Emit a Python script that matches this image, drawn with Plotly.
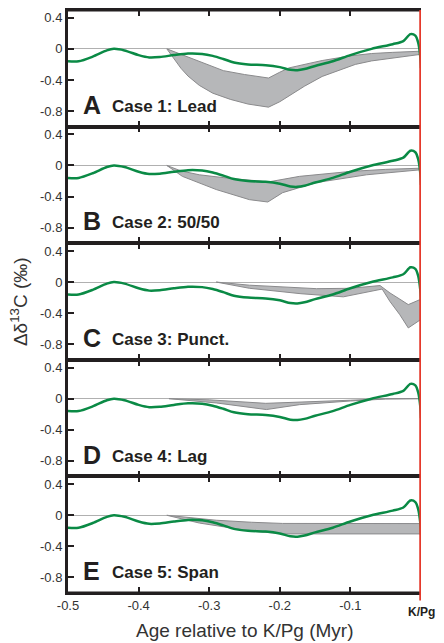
import plotly.graph_objects as go
from plotly.subplots import make_subplots

# ---- data ----
age = [-0.5, -0.485, -0.465, -0.445, -0.435, -0.42, -0.40, -0.385, -0.37, -0.35, -0.33,
       -0.31, -0.295, -0.28, -0.265, -0.245, -0.22, -0.2, -0.185, -0.175, -0.165, -0.15,
       -0.125, -0.1, -0.07, -0.04, -0.025, -0.015, -0.008, -0.004, -0.001, 0.0]
d13c = [-0.16, -0.16, -0.1, -0.02, 0.0, -0.02, -0.08, -0.11, -0.105, -0.08, -0.06,
        -0.065, -0.09, -0.13, -0.175, -0.2, -0.21, -0.235, -0.27, -0.275, -0.26, -0.22,
        -0.16, -0.08, 0.0, 0.06, 0.1, 0.19, 0.17, 0.08, -0.1, -0.25]

case1_up_x = [-0.36, -0.34, -0.32, -0.3, -0.28, -0.25, -0.216, -0.2, -0.187, -0.16, -0.14, -0.1, -0.07, -0.04, 0.0]
case1_up_y = [0.0, -0.07, -0.15, -0.22, -0.28, -0.33, -0.375, -0.3, -0.245, -0.19, -0.15, -0.09, -0.06, -0.045, -0.03]
case1_lo_x = [-0.36, -0.35, -0.34, -0.33, -0.314, -0.295, -0.27, -0.245, -0.216, -0.2, -0.187, -0.165, -0.14, -0.115, -0.093, -0.07, -0.045, 0.0]
case1_lo_y = [0.0, -0.13, -0.25, -0.35, -0.47, -0.57, -0.65, -0.71, -0.75, -0.68, -0.61, -0.48, -0.355, -0.27, -0.2, -0.155, -0.12, -0.07]

case2_up_x = [-0.36, -0.34, -0.314, -0.267, -0.215, -0.172, -0.1, -0.05, 0.0]
case2_up_y = [0.0, -0.07, -0.12, -0.17, -0.21, -0.14, -0.077, -0.05, -0.035]
case2_lo_x = [-0.36, -0.338, -0.29, -0.243, -0.217, -0.196, -0.148, -0.077, 0.0]
case2_lo_y = [0.0, -0.14, -0.31, -0.44, -0.47, -0.35, -0.22, -0.12, -0.055]

case3_up_x = [-0.29, -0.243, -0.148, -0.1, -0.058, -0.044, -0.03, -0.018, 0.0]
case3_up_y = [0.0, -0.04, -0.085, -0.08, -0.045, -0.14, -0.22, -0.29, -0.22]
case3_lo_x = [-0.29, -0.243, -0.17, -0.11, -0.055, -0.044, -0.03, -0.018, 0.0]
case3_lo_y = [0.0, -0.08, -0.15, -0.19, -0.09, -0.25, -0.42, -0.59, -0.48]

case4_up_x = [-0.357, -0.3, -0.22, -0.15, -0.1, -0.05, 0.0]
case4_up_y = [0.0, -0.015, -0.06, -0.04, -0.02, 0.0, 0.0]
case4_lo_x = [-0.357, -0.29, -0.219, -0.172, -0.1, -0.05, 0.0]
case4_lo_y = [0.0, -0.055, -0.14, -0.077, -0.03, -0.005, 0.0]

case5_up_x = [-0.36, -0.29, -0.24, -0.196, 0.0]
case5_up_y = [0.0, -0.064, -0.09, -0.105, -0.107]
case5_lo_x = [-0.36, -0.314, -0.243, -0.196, 0.0]
case5_lo_y = [0.0, -0.1, -0.2, -0.24, -0.24]

letters = ["A", "B", "C", "D", "E"]
case_names = ["Case 1: Lead", "Case 2: 50/50", "Case 3: Punct.", "Case 4: Lag", "Case 5: Span"]
ytick_vals = [0.4, 0, -0.4, -0.8]
ytick_text = ["0.4", "0", "-0.4", "-0.8"]
xtick_vals = [-0.5, -0.4, -0.3, -0.2, -0.1]
xtick_text = ["-0.5", "-0.4", "-0.3", "-0.2", "-0.1"]

polys = [
    (case1_up_x, case1_up_y, case1_lo_x, case1_lo_y),
    (case2_up_x, case2_up_y, case2_lo_x, case2_lo_y),
    (case3_up_x, case3_up_y, case3_lo_x, case3_lo_y),
    (case4_up_x, case4_up_y, case4_lo_x, case4_lo_y),
    (case5_up_x, case5_up_y, case5_lo_x, case5_lo_y),
]

DARK = "#231f20"
GREEN = "#0a8a45"
FONT = "Liberation Sans, Arial, sans-serif"

fig = make_subplots(rows=5, cols=1, shared_xaxes=True, vertical_spacing=0)

for i, (ux, uy, lx, ly) in enumerate(polys):
    r = i + 1
    sfx = str(r) if r > 1 else ""
    px = list(ux) + list(reversed(lx))
    py = list(uy) + list(reversed(ly))
    fig.add_trace(go.Scatter(x=px, y=py, fill="toself", fillcolor="#b6b7b9",
                             line=dict(color="#8a8a8c", width=1), mode="lines",
                             hoverinfo="skip", showlegend=False), row=r, col=1)
    fig.add_trace(go.Scatter(x=age, y=d13c, mode="lines",
                             line=dict(color=GREEN, width=2.5, shape="spline", smoothing=0.8),
                             showlegend=False), row=r, col=1)
    fig.add_annotation(x=-0.481, y=-0.72, xref="x" + sfx, yref="y" + sfx,
                       text="<b>" + letters[i] + "</b>", showarrow=False, xanchor="left", yanchor="middle",
                       font=dict(family=FONT, size=25, color=DARK))
    fig.add_annotation(x=-0.441, y=-0.74, xref="x" + sfx, yref="y" + sfx,
                       text="<b>" + case_names[i] + "</b>", showarrow=False, xanchor="left", yanchor="middle",
                       font=dict(family=FONT, size=17, color=DARK))
    fig.update_yaxes(row=r, col=1, range=[-1.0, 0.5], tickvals=ytick_vals, ticktext=ytick_text,
                     ticks="inside", ticklen=6, tickwidth=2, tickcolor=DARK, automargin=False,
                     showline=True, linewidth=3, linecolor=DARK, showgrid=False,
                     zeroline=True, zerolinecolor="#b0b0b0", zerolinewidth=1,
                     tickfont=dict(family=FONT, size=13, color="#333333"), fixedrange=True)
    fig.update_xaxes(row=r, col=1, range=[-0.5, 0.0], tickvals=xtick_vals, ticktext=xtick_text,
                     ticks="inside", ticklen=6, tickwidth=2, tickcolor=DARK, automargin=False,
                     showline=True, linewidth=1.5, linecolor=DARK, mirror="ticks", showgrid=False,
                     zeroline=False, tickfont=dict(family=FONT, size=13, color="#333333"))

# outer top and bottom borders (thicker)
fig.add_shape(type="line", xref="paper", yref="paper", x0=0, x1=1, y0=1, y1=1,
              line=dict(color=DARK, width=3), layer="above")
fig.add_shape(type="line", xref="paper", yref="paper", x0=0, x1=1, y0=0, y1=0,
              line=dict(color=DARK, width=3), layer="above")

fig.add_shape(type="line", xref="x", yref="paper", x0=0, x1=0, y0=-0.013, y1=1.0,
              line=dict(color="#e5392b", width=3.5), layer="above")

fig.add_annotation(x=0, y=-0.033, xref="x5", yref="paper", text="<b>K/Pg</b>", showarrow=False,
                   xanchor="center", yanchor="middle", font=dict(family=FONT, size=12, color=DARK))

fig.add_annotation(x=0.5, y=-0.064, xref="paper", yref="paper", text="Age relative to K/Pg (Myr)",
                   showarrow=False, xanchor="center", yanchor="middle",
                   font=dict(family=FONT, size=19, color="#333333"))

fig.add_annotation(x=-0.14, y=0.5, xref="paper", yref="paper", textangle=-90,
                   text="Δδ<sup>13</sup>C (‰)", showarrow=False, xanchor="center", yanchor="middle",
                   font=dict(family=FONT, size=19, color="#333333"))

fig.update_layout(width=444, height=643, margin=dict(l=68, r=23, t=10, b=50),
                  plot_bgcolor="white", paper_bgcolor="white", showlegend=False)

fig.write_html("out.html")
